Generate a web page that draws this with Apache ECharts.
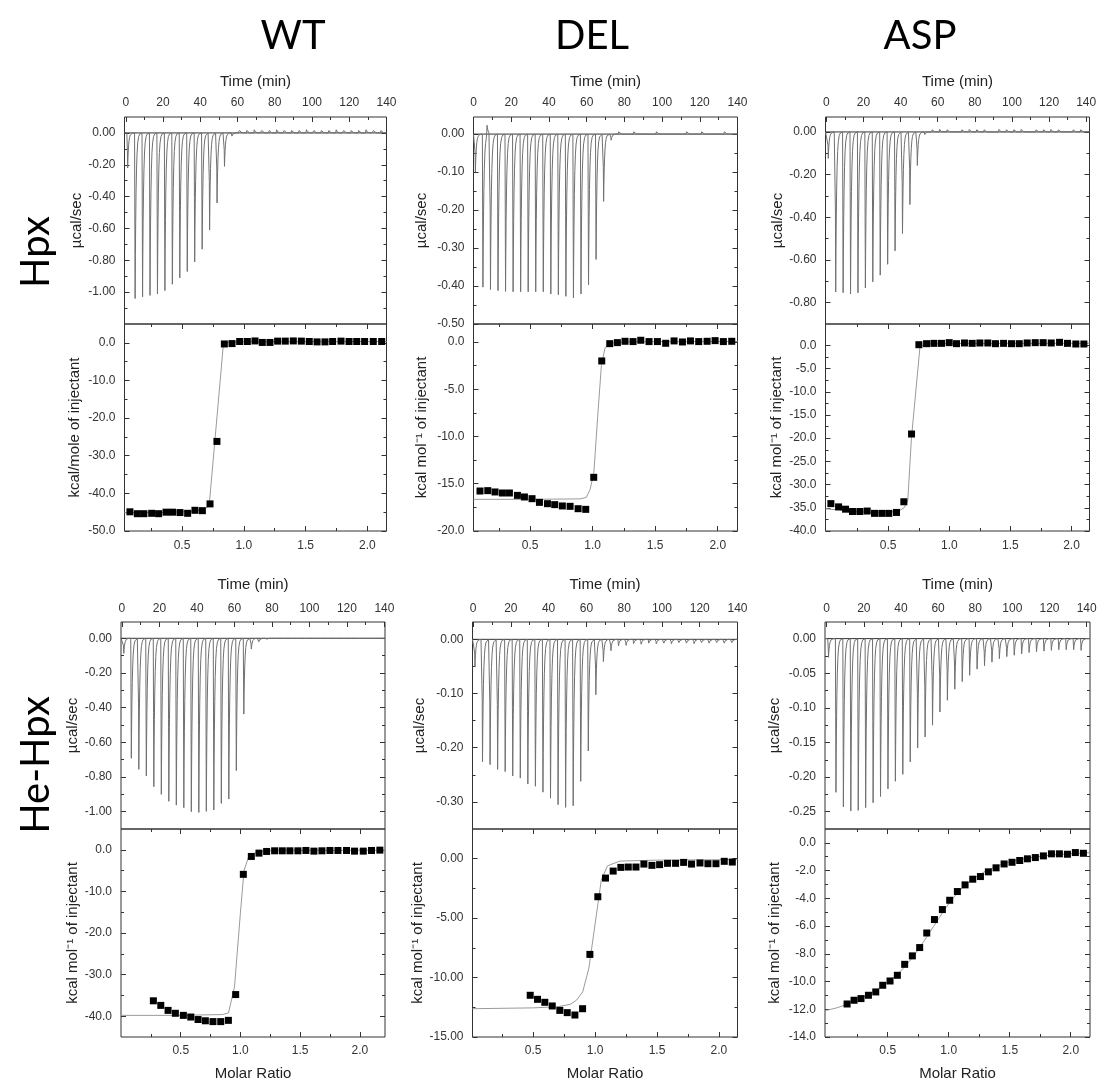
<!DOCTYPE html>
<html><head><meta charset="utf-8">
<script src="https://cdn.jsdelivr.net/npm/echarts@6/dist/echarts.min.js"></script>
<style>html,body{margin:0;padding:0;background:#fff}#c{width:1101px;height:1083px}</style>
</head><body><div id="c"></div>
<script>
// ---------- DATA ----------
const columns = ['WT', 'DEL', 'ASP'];
const rows = ['Hpx', 'He-Hpx'];
const injTimes = [1,5,9,13,17,21,25,29,33,37,41,45,49,53,57,61,65,69,73,77,81,85,89,93,97,101,105,109,113,117,121,125,129,133,137];
const timeTicks = [0,20,40,60,80,100,120,140];
const timeMinor = [10,30,50,70,90,110,130];
const ratioTicks = [0.5,1.0,1.5,2.0];
const ratioMinor = [0.25,0.75,1.25,1.75];

// thermogram peak heights (µcal/sec) for each injection
const wtHpxPeaks = [-0.22,-1.04,-1.03,-1.02,-1.01,-0.99,-0.95,-0.91,-0.87,-0.81,-0.73,-0.61,-0.44,-0.21,-0.02,0.015,0.015,0.02,0.015,0.015,0.02,0.015,0.015,0.015,0.02,0.015,0.015,0.015,0.02,0.015,0.015,0.015,0.02,0.015,0.015];
const delHpxPeaks = [-0.10,-0.403,-0.410,-0.412,-0.414,-0.415,-0.415,-0.415,-0.415,-0.415,-0.421,-0.423,-0.427,-0.431,-0.421,-0.397,-0.330,-0.177,-0.016,0.006,-0.005,0.006,0.005,-0.004,0.006,0.005,0.004,-0.005,0.006,0.005,0.006,0.005,0.004,0.006,0.005];
const delHpxExtra = [[7.2, 0.028]];
const aspHpxPeaks = [-0.124,-0.750,-0.753,-0.759,-0.754,-0.731,-0.702,-0.671,-0.620,-0.557,-0.476,-0.340,-0.157,-0.012,0.01,0.012,0.01,-0.008,0.01,0.012,0.01,0.01,-0.008,0.012,0.01,0.01,0.012,-0.008,0.01,0.01,0.012,0.01,-0.008,0.01,0.01];
const wtHePeaks = [-0.087,-0.692,-0.756,-0.794,-0.856,-0.900,-0.940,-0.962,-0.977,-1.000,-1.004,-0.998,-0.990,-0.952,-0.927,-0.763,-0.437,-0.062,-0.020,-0.008,-0.006,-0.006,-0.005,-0.005,-0.005,-0.004,-0.004,-0.005,-0.004,-0.004,-0.004,-0.005,-0.004,-0.004,-0.004];
const delHePeaks = [-0.050,-0.226,-0.231,-0.240,-0.244,-0.252,-0.256,-0.267,-0.271,-0.282,-0.293,-0.305,-0.310,-0.307,-0.262,-0.206,-0.102,-0.041,-0.021,-0.012,-0.011,-0.008,-0.009,-0.007,-0.008,-0.007,-0.008,-0.006,-0.007,-0.008,-0.006,-0.007,-0.006,-0.007,-0.006];
const aspHePeaks = [-0.027,-0.222,-0.243,-0.249,-0.248,-0.244,-0.237,-0.228,-0.217,-0.206,-0.196,-0.178,-0.158,-0.142,-0.125,-0.106,-0.089,-0.073,-0.062,-0.053,-0.044,-0.039,-0.034,-0.029,-0.026,-0.024,-0.022,-0.020,-0.019,-0.018,-0.017,-0.016,-0.016,-0.016,-0.017];

// binding isotherms (molar ratio vs kcal/mol)
const wtHpxRatio = [0.079,0.139,0.192,0.255,0.311,0.371,0.424,0.484,0.546,0.605,0.665,0.727,0.783,0.843,0.905,0.967,1.029,1.091,1.150,1.212,1.274,1.336,1.401,1.466,1.530,1.593,1.657,1.719,1.787,1.852,1.914,1.978,2.048,2.116];
const wtHpxHeat = [-44.9,-45.4,-45.4,-45.3,-45.4,-45.0,-45.0,-45.1,-45.3,-44.5,-44.6,-42.8,-26.2,-0.3,-0.2,0.35,0.35,0.5,0.1,0.1,0.45,0.45,0.5,0.45,0.35,0.25,0.25,0.35,0.45,0.35,0.35,0.35,0.35,0.35];
const wtHpxFitX = [0.035,0.3,0.6,0.68,0.72,0.835,0.87,1.0,2.155];
const wtHpxFitY = [-45.1,-45.1,-44.8,-44.2,-43.3,-0.4,0.1,0.3,0.35];

const delHpxRatio = [0.100,0.162,0.220,0.279,0.335,0.399,0.455,0.516,0.575,0.639,0.697,0.758,0.820,0.884,0.945,1.009,1.073,1.137,1.198,1.259,1.323,1.385,1.451,1.518,1.584,1.651,1.718,1.782,1.848,1.915,1.979,2.045,2.112];
const delHpxHeat = [-15.77,-15.73,-15.87,-15.98,-15.98,-16.23,-16.40,-16.58,-16.97,-17.11,-17.21,-17.35,-17.39,-17.64,-17.71,-14.32,-2.01,-0.18,-0.07,0.07,0.04,0.18,0.04,0.04,-0.14,0.11,0.0,0.11,0.04,0.07,0.14,0.04,0.07];
const delHpxFitX = [0.048,0.5,0.9,0.95,0.98,1.01,1.04,1.07,1.1,1.15,1.3,2.158];
const delHpxFitY = [-16.65,-16.65,-16.6,-16.45,-15.6,-13.8,-8,-2.5,-0.6,-0.1,0.02,0.05];

const aspHpxRatio = [0.031,0.094,0.151,0.208,0.268,0.328,0.388,0.448,0.505,0.568,0.628,0.691,0.751,0.814,0.874,0.936,0.999,1.059,1.124,1.187,1.250,1.315,1.378,1.444,1.509,1.572,1.637,1.703,1.768,1.834,1.902,1.967,2.035,2.101];
const aspHpxHeat = [-34.1,-34.8,-35.3,-35.8,-35.8,-35.7,-36.2,-36.2,-36.2,-36.0,-33.7,-19.1,0.14,0.36,0.43,0.43,0.58,0.36,0.51,0.43,0.51,0.51,0.36,0.43,0.36,0.36,0.51,0.58,0.58,0.51,0.65,0.43,0.29,0.29];
const aspHpxFitX = [-0.013,0.1,0.2,0.4,0.58,0.63,0.66,0.69,0.76,0.8,1.0,2.147];
const aspHpxFitY = [-35.2,-35.5,-35.8,-36.0,-35.8,-35.0,-33.5,-20,-0.3,0.25,0.4,0.45];

const wtHeRatio = [0.271,0.333,0.394,0.455,0.522,0.584,0.645,0.706,0.770,0.835,0.899,0.960,1.024,1.091,1.155,1.219,1.286,1.350,1.414,1.481,1.548,1.615,1.682,1.749,1.816,1.888,1.955,2.028,2.097,2.167];
const wtHeHeat = [-36.3,-37.4,-38.6,-39.3,-39.8,-40.2,-40.8,-41.1,-41.3,-41.3,-41.0,-34.8,-5.9,-1.6,-0.8,-0.4,-0.24,-0.24,-0.24,-0.24,-0.16,-0.32,-0.24,-0.16,-0.16,-0.16,-0.32,-0.32,-0.16,-0.08];
const wtHeFitX = [0,0.5,0.85,0.9,0.95,1.0,1.03,1.07,1.15,1.3,2.21];
const wtHeFitY = [-39.8,-39.8,-39.6,-39.2,-33,-15,-5,-1.5,-0.4,-0.15,-0.1];

const delHeRatio = [0.476,0.535,0.594,0.654,0.715,0.775,0.837,0.899,0.958,1.022,1.084,1.146,1.208,1.268,1.330,1.394,1.459,1.521,1.585,1.650,1.715,1.779,1.847,1.911,1.976,2.043,2.108];
const delHeHeat = [-11.49,-11.83,-12.08,-12.39,-12.76,-12.95,-13.15,-12.62,-8.05,-3.20,-1.63,-1.04,-0.73,-0.70,-0.70,-0.45,-0.56,-0.50,-0.39,-0.39,-0.31,-0.45,-0.36,-0.42,-0.42,-0.22,-0.28];
const delHeFitX = [0.01,0.5,0.7,0.8,0.85,0.9,0.95,1.0,1.05,1.1,1.2,1.5,2.15];
const delHeFitY = [-12.62,-12.55,-12.45,-12.25,-11.9,-11.2,-9.2,-5.5,-1.8,-0.6,-0.2,-0.12,-0.08];

const aspHeRatio = [0.167,0.224,0.281,0.342,0.402,0.459,0.519,0.579,0.639,0.702,0.762,0.820,0.883,0.948,1.008,1.071,1.134,1.197,1.260,1.325,1.388,1.454,1.519,1.582,1.645,1.710,1.776,1.842,1.907,1.973,2.038,2.104];
const aspHeHeat = [-11.62,-11.35,-11.23,-10.99,-10.75,-10.27,-9.96,-9.55,-8.76,-8.15,-7.55,-6.50,-5.53,-4.81,-4.14,-3.51,-3.03,-2.62,-2.43,-2.09,-1.80,-1.52,-1.40,-1.27,-1.15,-1.06,-0.94,-0.79,-0.79,-0.82,-0.70,-0.75];
const aspHeFitX = [-0.014,0.1,0.2,0.3,0.4,0.5,0.6,0.7,0.8,0.9,1.0,1.1,1.2,1.3,1.4,1.5,1.6,1.7,1.8,1.9,2.0,2.158];
const aspHeFitY = [-12.1,-11.85,-11.5,-11.1,-10.65,-10.05,-9.3,-8.3,-7.05,-5.7,-4.4,-3.35,-2.6,-2.05,-1.66,-1.38,-1.18,-1.03,-0.92,-0.84,-0.78,-0.7];

// y tick labels
const wtHpxPowTicks = [0,-0.2,-0.4,-0.6,-0.8,-1.0], wtHpxPowMinor = [-0.1,-0.3,-0.5,-0.7,-0.9,-1.1];
const wtHpxHeatTicks = [0,-10,-20,-30,-40,-50], wtHpxHeatMinor = [-5,-15,-25,-35,-45];
const delHpxPowTicks = [0,-0.1,-0.2,-0.3,-0.4,-0.5], delHpxPowMinor = [-0.05,-0.15,-0.25,-0.35,-0.45];
const delHpxHeatTicks = [0,-5,-10,-15,-20], delHpxHeatMinor = [-2.5,-7.5,-12.5,-17.5];
const aspHpxPowTicks = [0,-0.2,-0.4,-0.6,-0.8], aspHpxPowMinor = [-0.1,-0.3,-0.5,-0.7];
const aspHpxHeatTicks = [0,-5,-10,-15,-20,-25,-30,-35,-40], aspHpxHeatMinor = [-2.5,-7.5,-12.5,-17.5,-22.5,-27.5,-32.5,-37.5];
const wtHePowTicks = [0,-0.2,-0.4,-0.6,-0.8,-1.0], wtHePowMinor = [-0.1,-0.3,-0.5,-0.7,-0.9];
const wtHeHeatTicks = [0,-10,-20,-30,-40], wtHeHeatMinor = [-5,-15,-25,-35];
const delHePowTicks = [0,-0.1,-0.2,-0.3], delHePowMinor = [-0.05,-0.15,-0.25];
const delHeHeatTicks = [0,-5,-10,-15], delHeHeatMinor = [-2.5,-7.5,-12.5];
const aspHePowTicks = [0,-0.05,-0.1,-0.15,-0.2,-0.25], aspHePowMinor = [-0.025,-0.075,-0.125,-0.175,-0.225];
const aspHeHeatTicks = [0,-2,-4,-6,-8,-10,-12,-14], aspHeHeatMinor = [-1,-3,-5,-7,-9,-11,-13];

// ---------- BUILD ----------
const FONT = '"Liberation Sans", Arial, sans-serif';
const TITLE_FONT = 'Lato, "Open Sans", sans-serif';
const grids = [], xAxes = [], yAxes = [], series = [];

function fixed(d) { return v => { const n = Math.abs(v) < 1e-9 ? 0 : Number(v); return n.toFixed(d); }; }

function mkAxis(gi, range, pos, ticks, len, label) {
  const a = {
    type: 'value', gridIndex: gi, min: range[0], max: range[1], position: pos, silent: true,
    axisLine: { show: false, onZero: false }, splitLine: { show: false }, minorTick: { show: false },
    axisTick: { show: ticks.length > 0, inside: true, length: len, customValues: ticks, lineStyle: { color: '#333', width: 1 } },
    axisLabel: { show: false }, axisPointer: { show: false }
  };
  if (label) {
    a.axisLabel = { show: true, customValues: label.vals, formatter: fixed(label.dec), margin: label.margin,
      fontSize: 12, color: '#333', fontFamily: FONT };
    if (label.name) {
      a.name = label.name; a.nameLocation = 'middle'; a.nameGap = label.gap;
      a.nameTextStyle = { fontSize: 15, color: '#222', fontFamily: FONT };
    }
  }
  return a;
}

function addPanel(p) {
  const gi = grids.length;
  grids.push({ left: p.box[0], top: p.box[1], width: p.box[2], height: p.box[3], show: true,
    borderColor: '#333', borderWidth: 1, backgroundColor: 'rgba(0,0,0,0)' });
  const xi = xAxes.length;
  const xPos = p.xTop ? 'top' : 'bottom', xOpp = p.xTop ? 'bottom' : 'top';
  xAxes.push(mkAxis(gi, p.xr, xPos, p.xMajor, 5, { vals: p.xMajor, dec: p.xDec, margin: p.xMargin, name: p.xName, gap: p.xGap }));
  xAxes.push(mkAxis(gi, p.xr, xPos, p.xMinor, 3));
  if (!p.xTop) {
    xAxes.push(mkAxis(gi, p.xr, xOpp, p.xMajor, 5));
    xAxes.push(mkAxis(gi, p.xr, xOpp, p.xMinor, 3));
  }
  const yi = yAxes.length;
  yAxes.push(mkAxis(gi, p.yr, 'left', p.yMajor, 5, { vals: p.yMajor, dec: p.yDec, margin: 9, name: p.yName, gap: p.yGap }));
  yAxes.push(mkAxis(gi, p.yr, 'left', p.yMinor, 3));
  yAxes.push(mkAxis(gi, p.yr, 'right', p.yMajor, 5));
  yAxes.push(mkAxis(gi, p.yr, 'right', p.yMinor, 3));
  return { xi, yi };
}

function addThermo(ax, xr, peaks, extra) {
  const ev = injTimes.map((t, i) => [t, peaks[i]]).concat(extra || []);
  const offs = [-0.45, -0.3, -0.15, 0, 0.15, 0.3, 0.5, 0.75, 1.05, 1.4, 1.9, 2.5, 3.2];
  let ts = [xr[0], xr[1]];
  ev.forEach(e => offs.forEach(o => ts.push(e[0] + o)));
  ts = ts.filter(t => t >= xr[0] && t <= xr[1]).sort((a, b) => a - b);
  const shape = d => d < -0.3 ? 0 : (d < 0 ? 1 + d / 0.3 : Math.exp(-d / 0.5));
  const pts = ts.map(t => [t, ev.reduce((s, e) => s + e[1] * shape(t - e[0]), 0)]);
  series.push({ type: 'line', xAxisIndex: ax.xi, yAxisIndex: ax.yi, data: [[xr[0], 0], [xr[1], 0]],
    showSymbol: false, lineStyle: { color: '#333', width: 1 }, z: 2, silent: true });
  series.push({ type: 'line', xAxisIndex: ax.xi, yAxisIndex: ax.yi, data: pts, showSymbol: false,
    lineStyle: { color: '#707070', width: 1 }, z: 3, silent: true });
}

function addIso(ax, xs, ys, fx, fy, smooth) {
  series.push({ type: 'line', xAxisIndex: ax.xi, yAxisIndex: ax.yi, data: fx.map((x, i) => [x, fy[i]]),
    showSymbol: false, smooth: smooth || false, lineStyle: { color: '#9a9a9a', width: 1 }, z: 2, silent: true });
  series.push({ type: 'scatter', xAxisIndex: ax.xi, yAxisIndex: ax.yi, data: xs.map((x, i) => [x, ys[i]]),
    symbol: 'rect', symbolSize: 7, itemStyle: { color: '#000', opacity: 1 }, z: 3, silent: true });
}

const POW = 'µcal/sec';
const KCAL = 'kcal mol\u207B\u00B9 of injectant';

function topPanel(box, xr, yr, yMajor, yMinor, yDec, yGap, nameGap, margin) {
  return addPanel({ box, xr, yr, xTop: true, xMajor: timeTicks, xMinor: timeMinor, xDec: 0, xMargin: margin,
    xName: 'Time (min)', xGap: nameGap, yMajor, yMinor, yDec, yName: POW, yGap });
}
function botPanel(box, xr, yr, yMajor, yMinor, yDec, yName, yGap, xName, margin) {
  return addPanel({ box, xr, yr, xTop: false, xMajor: ratioTicks, xMinor: ratioMinor, xDec: 1, xMargin: margin,
    xName, xGap: 29, yMajor, yMinor, yDec, yName, yGap });
}

// Row 1 : Hpx
let ax, xr;
xr = [-0.7, 140];
ax = topPanel([124.5, 117, 262, 207], xr, [-1.2, 0.1], wtHpxPowTicks, wtHpxPowMinor, 2, 40, 28, 8);
addThermo(ax, xr, wtHpxPeaks);
ax = botPanel([124.5, 324, 262, 207], [0.035, 2.155], [-50, 5], wtHpxHeatTicks, wtHpxHeatMinor, 1, 'kcal/mole of injectant', 42, null, 9);
addIso(ax, wtHpxRatio, wtHpxHeat, wtHpxFitX, wtHpxFitY);

xr = [0, 140];
ax = topPanel([473.5, 117, 264, 207], xr, [-0.5, 0.045], delHpxPowTicks, delHpxPowMinor, 2, 44, 28, 8);
addThermo(ax, xr, delHpxPeaks, delHpxExtra);
ax = botPanel([473.5, 324, 264, 207], [0.048, 2.158], [-20, 1.9], delHpxHeatTicks, delHpxHeatMinor, 1, KCAL, 44, null, 9);
addIso(ax, delHpxRatio, delHpxHeat, delHpxFitX, delHpxFitY);

xr = [-0.5, 141.8];
ax = topPanel([825.5, 117, 264, 207], xr, [-0.9, 0.07], aspHpxPowTicks, aspHpxPowMinor, 2, 38, 28, 8);
addThermo(ax, xr, aspHpxPeaks);
ax = botPanel([825.5, 324, 264, 207], [-0.013, 2.147], [-40, 4.6], aspHpxHeatTicks, aspHpxHeatMinor, 1, KCAL, 41, null, 9);
addIso(ax, aspHpxRatio, aspHpxHeat, aspHpxFitX, aspHpxFitY);

// Row 2 : He-Hpx
xr = [-0.5, 140.3];
ax = topPanel([121, 622, 264, 207], xr, [-1.1, 0.094], wtHePowTicks, wtHePowMinor, 2, 40, 29.5, 7);
addThermo(ax, xr, wtHePeaks);
ax = botPanel([121, 829, 264, 208], [0, 2.21], [-45, 5], wtHeHeatTicks, wtHeHeatMinor, 1, KCAL, 40, 'Molar Ratio', 8);
addIso(ax, wtHeRatio, wtHeHeat, wtHeFitX, wtHeFitY);

xr = [-0.3, 140];
ax = topPanel([472.5, 622, 265, 207], xr, [-0.35, 0.032], delHePowTicks, delHePowMinor, 2, 45, 29.5, 7);
addThermo(ax, xr, delHePeaks);
ax = botPanel([472.5, 829, 265, 208], [0.01, 2.15], [-15, 2.5], delHeHeatTicks, delHeHeatMinor, 2, KCAL, 45, 'Molar Ratio', 8);
addIso(ax, delHeRatio, delHeHeat, delHeFitX, delHeFitY);

xr = [-0.9, 141.8];
ax = topPanel([825, 622, 265, 207], xr, [-0.275, 0.024], aspHePowTicks, aspHePowMinor, 2, 43, 29.5, 7);
addThermo(ax, xr, aspHePeaks);
ax = botPanel([825, 829, 265, 208], [-0.014, 2.158], [-14, 1], aspHeHeatTicks, aspHeHeatMinor, 1, KCAL, 43, 'Molar Ratio', 8);
addIso(ax, aspHeRatio, aspHeHeat, aspHeFitX, aspHeFitY, 0.3);

const titleStyle = (text) => ({ text, fontSize: 40, fontFamily: TITLE_FONT, fill: '#000', align: 'center', verticalAlign: 'middle' });
const graphic = [
  { type: 'text', x: 293, y: 36, style: titleStyle(columns[0]) },
  { type: 'text', x: 592, y: 36, style: titleStyle(columns[1]) },
  { type: 'text', x: 920, y: 36, style: titleStyle(columns[2]) },
  { type: 'text', x: 36, y: 252, rotation: Math.PI / 2, style: titleStyle(rows[0]) },
  { type: 'text', x: 36, y: 765, rotation: Math.PI / 2, style: titleStyle(rows[1]) }
];

const chart = echarts.init(document.getElementById('c'), null, { renderer: 'canvas' });
chart.setOption({
  animation: false,
  backgroundColor: '#fff',
  grid: grids, xAxis: xAxes, yAxis: yAxes, series, graphic
});
</script></body></html>
